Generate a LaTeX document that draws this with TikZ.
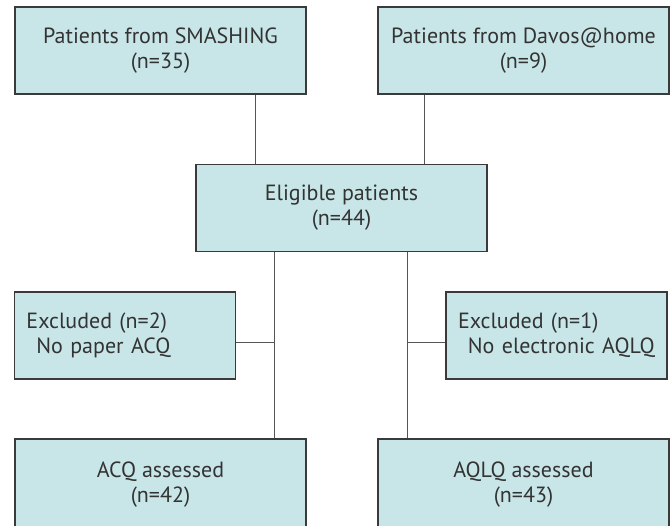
\documentclass[tikz,border=0pt]{standalone}
\usepackage{fontspec}
\setmainfont{PT Sans}
\usetikzlibrary{calc}
\definecolor{boxfill}{HTML}{C8E6E8}
\definecolor{boxline}{HTML}{3A3A3A}
\definecolor{linkline}{HTML}{555555}
\definecolor{boxtext}{HTML}{333333}
\tikzstyle{flowbox}=[rectangle,draw=boxline,fill=boxfill,line width=1.2pt,minimum width=291pt,minimum height=87pt,inner sep=0pt,align=center,text=boxtext,font=\fontsize{22}{25}\selectfont]
\tikzstyle{exclbox}=[flowbox,minimum width=221pt,text width=197pt,inner xsep=12pt,align=left]
\tikzstyle{link}=[draw=linkline,line width=1pt]

\begin{document}
\begin{tikzpicture}[x=1pt,y=-1pt]
    \useasboundingbox (0,0) rectangle (672,525);

    % main boxes
    \foreach \pos/ \name/ \txt in {{(160.5,50.5)/smash/{Patients from SMASHING\\(n=35)}},
        {(523.5,50.5)/davos/{Patients from Davos@home\\(n=9)}},
        {(341.5,208)/elig/{Eligible patients\\(n=44)}}}
        \node[flowbox] (\name) at \pos {\txt};

    % bottom boxes run past the page edge
    \foreach \pos/ \name/ \txt in {{(160.5,484)/acq/{ACQ assessed\\(n=42)}},
        {(523.5,484)/aqlq/{AQLQ assessed\\(n=43)}}}
        \node[flowbox,minimum height=90pt,text depth=3pt] (\name) at \pos {\txt};

    % excluded
    \node[exclbox] (exA) at (125,335.5) {Excluded (n=2)\\\hspace*{0.45em}No paper ACQ};
    \node[exclbox] (exB) at (556.5,335.5) {Excluded (n=1)\\\hspace*{0.45em}No electronic AQLQ};

    \coordinate (jA) at (255,0);
    \coordinate (jB) at (424,0);
    \coordinate (jL) at (274,342);
    \coordinate (jR) at (407,342);

    % connect boxes
    \path[link] (smash.south -| jA) -- (elig.north -| jA);
    \path[link] (davos.south -| jB) -- (elig.north -| jB);
    \path[link] (elig.south -| jL) -- (acq.north -| jL);
    \path[link] (elig.south -| jR) -- (aqlq.north -| jR);
    \path[link] (exA.east |- jL) -- (jL);
    \path[link] (exB.west |- jR) -- (jR);

\end{tikzpicture}
\end{document}
